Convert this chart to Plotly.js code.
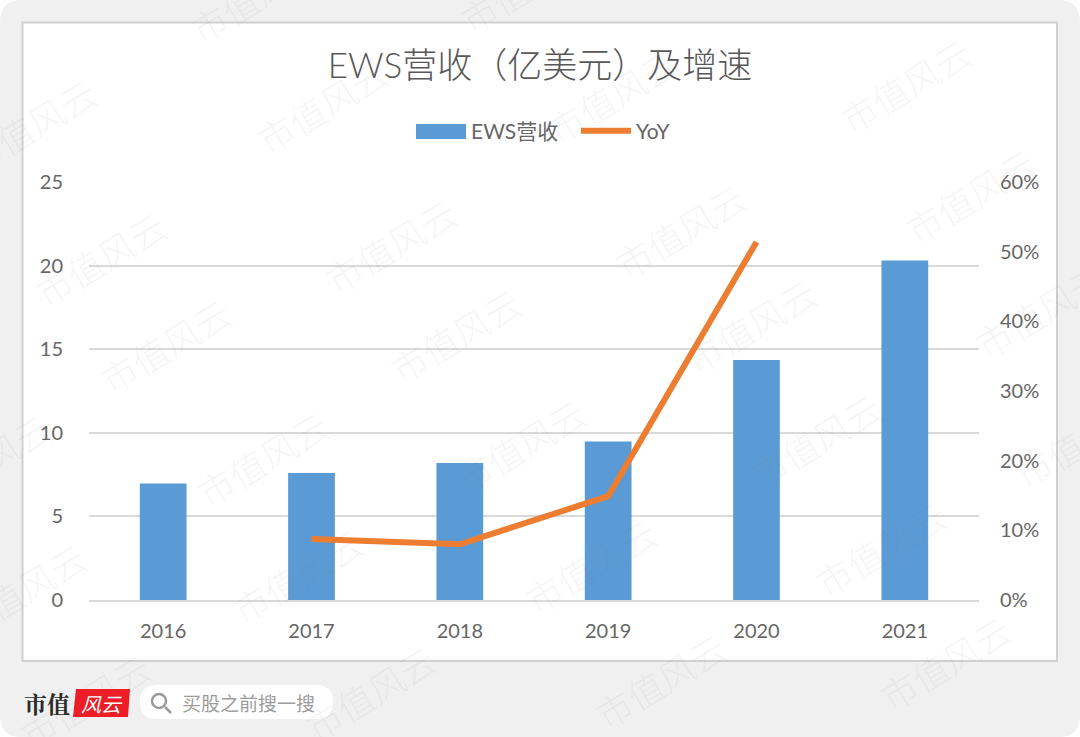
<!DOCTYPE html>
<html><head><meta charset="utf-8">
<script src="https://cdn.plot.ly/plotly-3.0.1.min.js"></script>
<style>html,body{margin:0;padding:0;background:#fff}#c{width:1080px;height:737px}</style></head>
<body><div id="c"></div>
<script>
const years = ['2016','2017','2018','2019','2020','2021'];
const revenue = [6.97,7.6,8.2,9.48,14.35,20.3];
const yoy = [null,0.0875,0.08,0.149,0.514,null];
const chartTitle = 'EWS营收（亿美元）及增速';
const watermarkText = '市值风云';
const watermarkSpots = [[255,-5],[525,-15],[30,125],[322,105],[612,95],[905,85],[100,258],[390,245],[680,230],[970,195],[165,345],[455,335],[750,325],[1040,310],[262,458],[520,445],[815,440],[1080,440],[-15,460],[297,575],[590,565],[880,548],[20,590],[370,692],[660,680],[945,662],[85,700]];
const FONT = 'Lato, "Noto Sans CJK SC", sans-serif';
const CJK = '"Noto Sans CJK SC", sans-serif';
const px = v => (v-89)/890, py = v => (600-v)/418;
const annos = watermarkSpots.map(p => ({xref:'paper',yref:'paper',x:px(p[0]),y:py(p[1]),text:watermarkText,showarrow:false,
  textangle:-31,font:{family:CJK,size:36,weight:300,color:'rgba(110,110,110,0.08)'},xanchor:'center',yanchor:'middle'}));
annos.push(
 {xref:'paper',yref:'paper',x:px(22),y:py(703),xanchor:'left',yanchor:'middle',showarrow:false,text:'<b>市值</b>',font:{family:'"Noto Serif CJK SC",'+CJK,size:23,color:'#2b2b2b'}},
 {xref:'paper',yref:'paper',x:px(101.5),y:py(703),xanchor:'center',yanchor:'middle',showarrow:false,text:'<i>风云</i>',font:{family:CJK,size:20,color:'#ffffff'}},
 {xref:'paper',yref:'paper',x:px(180),y:py(702),xanchor:'left',yanchor:'middle',showarrow:false,text:'买股之前搜一搜',font:{family:CJK,size:19,color:'#9c9c9c'}}
);
const shapes = [
 {type:'path',xref:'paper',yref:'paper',layer:'below',line:{width:0},fillcolor:'#f0f0f0',
  path:`M ${px(0)} ${py(22)} Q ${px(0)} ${py(0)} ${px(22)} ${py(0)} L ${px(1058)} ${py(0)} Q ${px(1080)} ${py(0)} ${px(1080)} ${py(22)} L ${px(1080)} ${py(715)} Q ${px(1080)} ${py(737)} ${px(1058)} ${py(737)} L ${px(22)} ${py(737)} Q ${px(0)} ${py(737)} ${px(0)} ${py(715)} Z`},
 {type:'rect',xref:'paper',yref:'paper',layer:'below',x0:px(22.5),x1:px(1057),y0:py(22.5),y1:py(661),fillcolor:'#ffffff',line:{color:'#d0d0d0',width:2}},
 {type:'path',xref:'paper',yref:'paper',layer:'below',line:{width:0},fillcolor:'#ffffff',
  path:`M ${px(157)} ${py(685)} L ${px(316)} ${py(685)} Q ${px(333)} ${py(685)} ${px(333)} ${py(702)} Q ${px(333)} ${py(719)} ${px(316)} ${py(719)} L ${px(157)} ${py(719)} Q ${px(140)} ${py(719)} ${px(140)} ${py(702)} Q ${px(140)} ${py(685)} ${px(157)} ${py(685)} Z`},
 {type:'circle',xref:'paper',yref:'paper',x0:px(152),x1:px(166),y0:py(694),y1:py(708),line:{color:'#9a9a9a',width:2.5}},
 {type:'line',xref:'paper',yref:'paper',x0:px(165),x1:px(171),y0:py(707),y1:py(713),line:{color:'#9a9a9a',width:2.5}},
 {type:'path',xref:'paper',yref:'paper',line:{width:0},fillcolor:'#ee1c25',
  path:`M ${px(76)} ${py(689)} L ${px(130)} ${py(689)} L ${px(128)} ${py(717)} L ${px(73)} ${py(717)} Z`},
 {type:'rect',xref:'paper',yref:'paper',x0:px(416),x1:px(466),y0:py(124),y1:py(139),fillcolor:'#5b9bd5',line:{width:0}}
];
const data = [
 {type:'bar',name:'EWS营收',x:years,y:revenue,marker:{color:'#5b9bd5'},yaxis:'y',hoverinfo:'x+y'},
 {type:'scatter',mode:'lines',name:'YoY',x:years,y:yoy,yaxis:'y2',line:{color:'#ed7d31',width:6,shape:'linear'},connectgaps:false}
];
const layout = {
 width:1080,height:737,paper_bgcolor:'#ffffff',plot_bgcolor:'rgba(0,0,0,0)',
 margin:{l:89,r:101,t:182,b:137},bargap:0.685,showlegend:true,
 title:{text:chartTitle,font:{family:FONT,size:35,weight:300,color:'#585858'},x:540/1080,xanchor:'center',y:1-66/737,yanchor:'middle'},
 legend:{orientation:'h',x:px(411),xanchor:'left',xref:'paper',y:py(131),yref:'paper',yanchor:'middle',font:{family:FONT,size:21,color:'#666666'},bgcolor:'rgba(0,0,0,0)',itemwidth:50,entrywidth:100,entrywidthmode:'pixels'},
 xaxis:{type:'category',tickfont:{family:FONT,size:20,color:'#666666'},showgrid:false,showline:true,linecolor:'#d9d9d9',linewidth:2,ticks:'',ticklen:0,automargin:false,ticklabelstandoff:12},
 yaxis:{range:[0,25],tick0:0,dtick:5,tickfont:{family:FONT,size:20,color:'#666666'},gridcolor:'#d9d9d9',gridwidth:2,zeroline:false,ticks:'',ticklabelstandoff:25,automargin:false},
 yaxis2:{range:[0,0.6],tick0:0,dtick:0.1,tickformat:'.0%',overlaying:'y',side:'right',showgrid:false,zeroline:false,tickfont:{family:FONT,size:20,color:'#666666'},ticks:'',ticklabelstandoff:20,automargin:false},
 shapes:shapes,annotations:annos,
 font:{family:FONT}
};
Plotly.newPlot('c',data,layout,{displayModeBar:false,responsive:false});
</script></body></html>
